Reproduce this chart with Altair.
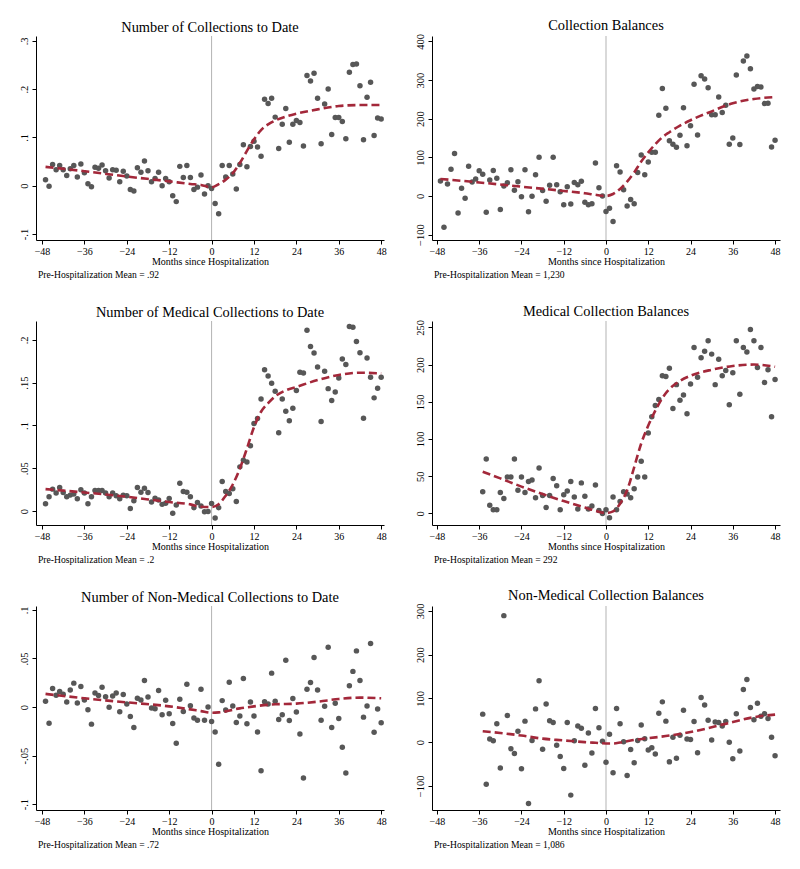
import altair as alt
import pandas as pd

FONT = "Liberation Serif"

# ---------------- data ----------------
months_full = list(range(-47, 49))
months_short = list(range(-35, 49))

# Panel 1: Number of Collections to Date
p1_vals = [0.0125, -0.001, 0.044, 0.033, 0.042, 0.033, 0.021, 0.035, 0.042, 0.018,
           0.045, 0.027, 0.004, -0.002, 0.038, 0.036, 0.043, 0.031, 0.016, 0.033,
           0.032, 0.008, 0.030, 0.020, -0.008, -0.011, 0.037, 0.028, 0.051, 0.031,
           0.008, 0.015, 0.028, 0.0, 0.015, 0.008, -0.021, -0.033, 0.040, 0.017,
           0.042, 0.017, -0.008, -0.003, 0.022, -0.017, 0.0, -0.006, -0.037, -0.058,
           0.042, 0.018, 0.042, 0.024, -0.007, 0.044, 0.085, 0.039, 0.081, 0.092,
           0.080, 0.061, 0.179, 0.170, 0.181, 0.142, 0.077, 0.127, 0.160, 0.090,
           0.127, 0.135, 0.131, 0.082, 0.228, 0.217, 0.233, 0.181, 0.087, 0.169,
           0.200, 0.106, 0.141, 0.141, 0.133, 0.097, 0.235, 0.251, 0.252, 0.207,
           0.095, 0.183, 0.214, 0.104, 0.140, 0.138]
fit_m_full = [-47, -36, -24, -12, -6, -3, 0, 2, 4, 6, 8, 10, 12, 14, 16, 18, 21, 24, 30, 36, 42, 48]
p1_fit = [0.039, 0.030, 0.019, 0.009, 0.0035, 0.0015, -0.0035, 0.003, 0.0125, 0.026, 0.047,
          0.072, 0.096, 0.115, 0.127, 0.135, 0.143, 0.149, 0.158, 0.165, 0.167, 0.167]

# Panel 2: Collection Balances
p2_vals = [39, -81, 31, 69, 110, -44, 20, -6, 77, 36,
           44, 65, 56, -42, 41, 66, 46, -35, 26, 34,
           68, 15, 37, -2, 68, -41, -1, 55, 100, 14,
           -14, 28, 100, 29, 11, -23, 24, -21, 35, 29,
           38, -16, -23, -20, 85, 21, 0, -40, -32, -66,
           78, 62, 16, -26, -9, -20, 61, 106, 55, 88,
           113, 113, 209, 278, 227, 143, 134, 126, 157, 228,
           130, 182, 289, 158, 311, 303, 280, 210, 210, 256,
           216, 235, 134, 150, 313, 133, 349, 362, 329, 277,
           283, 282, 239, 240, 127, 144]
p2_fit = [44, 35, 24, 13, 7, 3, 0, 5, 18, 37, 61, 89, 113, 134, 152, 165, 182, 196, 219, 240, 251, 256]

# Panel 3: Number of Medical Collections to Date
p3_vals = [0.0085, 0.0167, 0.0256, 0.021, 0.0275, 0.0217, 0.0167, 0.0186, 0.020, 0.0143,
           0.025, 0.021, 0.0085, 0.0167, 0.024, 0.024, 0.024, 0.021, 0.0167, 0.021,
           0.018, 0.0143, 0.0186, 0.0178, 0.003, 0.012, 0.0275, 0.022, 0.0267, 0.0217,
           0.0105, 0.015, 0.0128, 0.0078, 0.009, 0.0147, -0.0027, 0.007, 0.0326, 0.0229,
           0.022, 0.0167, 0.0039, 0.010, 0.0058, -0.0008, -0.0004, 0.0089, -0.0081, 0.0039,
           0.0345, 0.0229, 0.0205, 0.026, 0.0112, 0.0516, 0.0593, 0.0574, 0.0764, 0.1023,
           0.1081, 0.1310, 0.1651, 0.1578, 0.1492, 0.1399, 0.0915, 0.1310, 0.1167, 0.1054,
           0.1202, 0.1407, 0.1620, 0.1612, 0.2112, 0.1922, 0.1845, 0.1682, 0.1047, 0.1632,
           0.1430, 0.1291, 0.1391, 0.1554, 0.1775, 0.1713, 0.2155, 0.2147, 0.198, 0.1849,
           0.1085, 0.1787, 0.1562, 0.1322, 0.1434, 0.1562]
p3_fit = [0.0256, 0.0217, 0.0167, 0.0105, 0.0078, 0.005, 0.0047, 0.008, 0.018, 0.031, 0.0496,
          0.073, 0.098, 0.116, 0.126, 0.134, 0.141, 0.145, 0.153, 0.159, 0.1616, 0.1608]

# Panel 4: Medical Collection Balances
p4_vals = [29, 73, 11, 5, 5, 28, 20, 49, 49, 73,
           31, 49, 28, 43, 45, 21, 61, 24, 8, 24,
           47, 37, 5, 25, 30, 43, 22, 6, 41, 23,
           6, 10, 38, 4, 0, 5, -6, 22, 5, 16,
           29, 26, 21, 33, 49, 70, 49, 108, 130, 145,
           153, 185, 184, 195, 141, 173, 152, 159, 134, 174,
           223, 183, 209, 218, 232, 214, 173, 207, 185, 192,
           146, 189, 232, 160, 223, 217, 247, 232, 196, 223,
           176, 193, 130, 180]
fit_m_short = [-35, -30, -24, -18, -12, -6, -3, 0, 2, 4, 6, 8, 10, 12, 14, 16, 18, 21, 24, 30, 36, 42, 48]
p4_fit = [56, 47, 36, 26, 16.5, 8, 3.6, 0.5, 2.7, 13, 31, 62, 94, 118, 138, 155, 167, 178, 185, 193, 198, 200, 197]

# Panel 5: Number of Non-Medical Collections to Date
p5_vals = [0.0059, -0.0166, 0.019, 0.0121, 0.016, 0.0131, 0.0052, 0.0176, 0.0246, 0.0042,
           0.0211, 0.0073, -0.0028, -0.0176, 0.0145, 0.0118, 0.0204, 0.0107, -0.0003, 0.0114,
           0.0145, -0.0048, 0.0128, 0.0031, -0.0097, -0.0211, 0.009, 0.0073, 0.0273, 0.0104,
           -0.001, -0.0017, 0.017, -0.008, 0.0069, -0.0069, -0.017, -0.0374, 0.008, -0.0045,
           0.0235, 0.0014, -0.0114, -0.0135, 0.0183, -0.0135, 0.0, -0.0149, -0.0256, -0.0588,
           0.0066, -0.0031, 0.0256, 0.001, -0.0159, -0.0093, 0.0294, -0.0173, 0.0052, -0.0093,
           -0.0256, -0.0657, 0.0055, 0.0031, 0.0349, 0.0059, -0.0128, -0.008, 0.0481, -0.0138,
           0.0087, -0.0052, -0.0277, -0.073, 0.0183, 0.0253, 0.0509, 0.0176, -0.0135, 0.0007,
           0.0616, -0.0211, 0.0038, -0.0118, -0.0415, -0.0678, 0.0218, 0.0367, 0.0578, 0.0273,
           -0.0104, 0.001, 0.0654, -0.026, -0.0021, -0.0163]
fit_m_5 = [-47, -36, -24, -12, -6, -3, 0, 2, 4, 6, 8, 10, 12, 18, 24, 30, 36, 42, 48]
p5_fit = [0.0135, 0.009, 0.0048, 0.0007, -0.0024, -0.0042, -0.0059, -0.0055, -0.0045, -0.0028,
          -0.0014, -0.0003, 0.0007, 0.0028, 0.0035, 0.0055, 0.0083, 0.0097, 0.009]

# Panel 6: Non-Medical Collection Balances
p6_vals = [64, -96, 7, 3, 42, -59, 289, 61, -15, -26,
           25, -61, 48, -140, 4, 76, 140, -16, 87, 49,
           45, -7, -33, -60, 45, -121, 3, 37, 32, -53,
           21, -25, 77, 33, 2, -46, 18, -70, 77, 42,
           1, -76, -17, -47, 4, 39, 8, -18, -13, -27,
           66, 92, 48, -45, 11, -37, 16, 73, 7, 6,
           47, -24, 102, 85, 50, 5, 46, 45, 37, 47,
           0, -38, 65, -20, 120, 143, 79, 51, 89, 59,
           65, 54, 11, -31]
fit_m_6 = [-35, -30, -24, -18, -12, -6, -3, 0, 2, 4, 6, 8, 12, 18, 24, 30, 36, 42, 48]
p6_fit = [25, 21, 15, 8, 4, 0, -1.5, -3, -3, -1, 2, 5, 9, 15, 23, 34, 46, 57, 63]

x_ticks = [-48, -36, -24, -12, 0, 12, 24, 36, 48]

W, H = 348, 204


def panel(title, months, vals, fit_m, fit_v, ydom, yticks, frac, note, xdom):
    xs = alt.Scale(domain=xdom, nice=False, zero=False)
    ys = alt.Scale(domain=ydom, nice=False, zero=False)
    if frac:
        lab = ("datum.value == 0 ? '0' : (datum.value < 0 ? '-' : '') + "
               "substring(format(abs(datum.value), '.2~f'), 1)")
    else:
        lab = "format(datum.value, 'd')"
    xaxis = alt.Axis(values=x_ticks, title="Months since Hospitalization", grid=False,
                     domainColor="black", tickColor="black", tickSize=4, labelFont=FONT,
                     labelFontSize=10, labelColor="black", titleFont=FONT, titleFontSize=10,
                     titleFontWeight="normal", titleColor="black", labelPadding=2,
                     titlePadding=0, labelFlush=False)
    yaxis = alt.Axis(values=yticks, title=None, grid=False, domainColor="black",
                     tickColor="black", tickSize=4, labelFont=FONT, labelFontSize=10.5,
                     labelColor="black", labelAngle=270, labelAlign="center",
                     labelBaseline="bottom", labelPadding=3, labelExpr=lab, labelFlush=False)
    pts = pd.DataFrame({"m": months, "v": vals})
    fit = pd.DataFrame({"m": fit_m, "v": fit_v})
    zero = pd.DataFrame({"m": [0]})
    notes = pd.DataFrame({"t": [note]})

    rule = alt.Chart(zero).mark_rule(color="#b3b3b3", strokeWidth=1).encode(
        x=alt.X("m:Q", scale=xs, axis=xaxis))
    dots = alt.Chart(pts).mark_circle(size=30, color="#575757", opacity=1).encode(
        x=alt.X("m:Q", scale=xs, axis=xaxis),
        y=alt.Y("v:Q", scale=ys, axis=yaxis))
    line = alt.Chart(fit).mark_line(color="#a3283a", strokeDash=[8, 4], strokeWidth=2.6,
                                    interpolate="monotone").encode(
        x=alt.X("m:Q", scale=xs, axis=xaxis),
        y=alt.Y("v:Q", scale=ys, axis=yaxis))
    txt = alt.Chart(notes).mark_text(align="left", baseline="middle", font=FONT,
                                     fontSize=9.6, color="black").encode(
        x=alt.value(2), y=alt.value(H + 35), text="t:N")
    return alt.layer(rule, dots, line, txt).properties(
        width=W, height=H,
        title=alt.TitleParams(title, font=FONT, fontSize=14.4, fontWeight="normal",
                              color="black", anchor="middle", offset=0))


xd1 = [-49.7, 48.8]
xd2 = [-49.4, 49.4]
panels = [
    panel("Number of Collections to Date", months_full, p1_vals, fit_m_full, p1_fit,
          [-0.1125, 0.31], [-0.1, 0, 0.1, 0.2, 0.3], True,
          "Pre-Hospitalization Mean = .92", xd1),
    panel("Collection Balances", months_full, p2_vals, fit_m_full, p2_fit,
          [-114, 414], [-100, 0, 100, 200, 300, 400], False,
          "Pre-Hospitalization Mean = 1,230", xd2),
    panel("Number of Medical Collections to Date", months_full, p3_vals, fit_m_full, p3_fit,
          [-0.0163, 0.222], [0, 0.05, 0.1, 0.15, 0.2], True,
          "Pre-Hospitalization Mean = .2", xd1),
    panel("Medical Collection Balances", months_short, p4_vals, fit_m_short, p4_fit,
          [-15.6, 258.5], [0, 50, 100, 150, 200, 250], False,
          "Pre-Hospitalization Mean = 292", xd2),
    panel("Number of Non-Medical Collections to Date", months_full, p5_vals, fit_m_5, p5_fit,
          [-0.106, 0.104], [-0.1, -0.05, 0, 0.05, 0.1], True,
          "Pre-Hospitalization Mean = .72", xd1),
    panel("Non-Medical Collection Balances", months_short, p6_vals, fit_m_6, p6_fit,
          [-155, 311], [-100, 0, 100, 200, 300], False,
          "Pre-Hospitalization Mean = 1,086", xd2),
]

chart = alt.concat(*panels, columns=2, spacing={"row": 81, "column": 48},
                   bounds="flush").properties(
    padding={"left": 10, "top": 10, "right": 5, "bottom": 5},
    background="white"
).configure_view(stroke=None)

chart.save("out.html", embed_options={"renderer": "svg", "actions": False})
